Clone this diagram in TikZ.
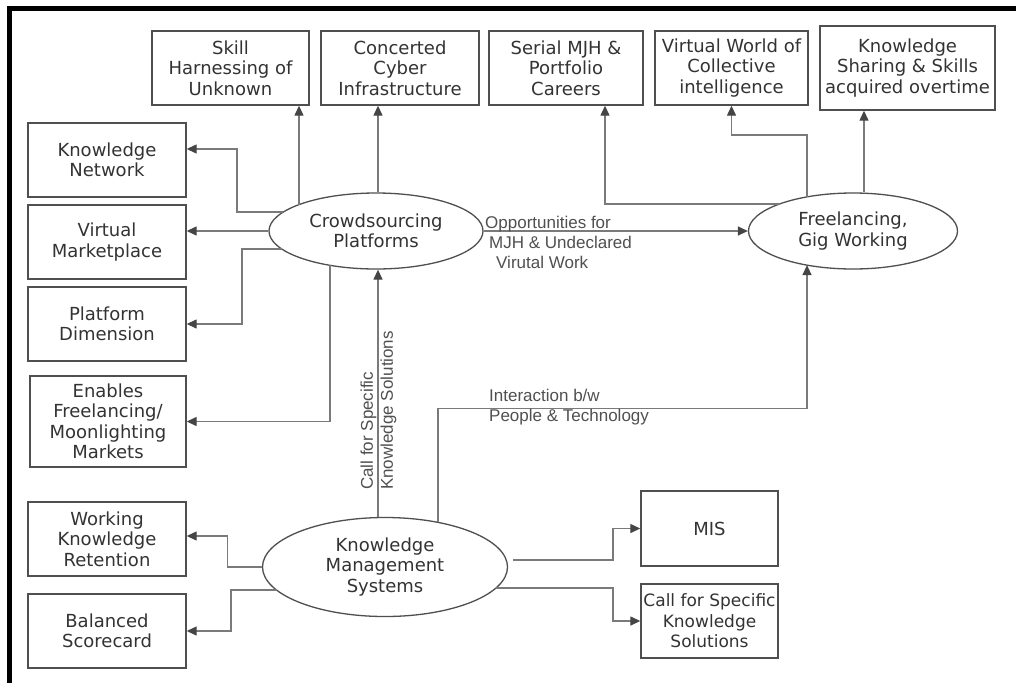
\documentclass[tikz,border=0pt]{standalone}
\usepackage{fontspec}
\setmainfont{DejaVu Sans}
\newfontfamily\labfont{Liberation Sans}
\usetikzlibrary{arrows.meta,shapes.geometric}
\definecolor{boxc}{HTML}{4F4F4F}
\definecolor{linec}{HTML}{7A7A7A}
\definecolor{arrc}{HTML}{454545}
\definecolor{txtc}{HTML}{333333}
\definecolor{labc}{HTML}{505050}
\begin{document}
\begin{tikzpicture}[x=1pt,y=-1pt,
  box/.style={draw=boxc, line width=1.4pt, text=txtc, align=center, inner sep=0pt,
    font=\fontsize{18}{20.5}\selectfont},
  oval/.style={ellipse, draw=boxc, line width=1.3pt, text=txtc, align=center, inner sep=0pt,
    font=\fontsize{18}{20.5}\selectfont},
  conn/.style={draw=linec, line width=1.3pt, -{Triangle[length=10pt,width=9pt,color=arrc]}},
  lab/.style={text=labc, align=left, inner sep=0pt, font=\labfont\fontsize{17}{20}\selectfont}
]
\useasboundingbox (0,0) rectangle (1016,683);
\fill[white] (0,0) rectangle (1016,683);
\fill[black] (7,6) rectangle (1016,11);
\fill[black] (7,6) rectangle (12,683);

% top boxes
\node[box, minimum width=157pt, minimum height=74pt] (skill) at (230.5,68) {Skill\\Harnessing of\\Unknown};
\node[box, minimum width=158pt, minimum height=74pt] (conc) at (400,68) {Concerted\\Cyber\\Infrastructure};
\node[box, minimum width=154pt, minimum height=74pt] (serial) at (566,68) {Serial MJH \&\\Portfolio\\Careers};
\node[box, minimum width=153pt, minimum height=74pt] (vw) at (731.5,68) {Virtual World of\\Collective\\intelligence};
\node[box, minimum width=175pt, minimum height=84pt] (ks) at (907.5,68) {Knowledge\\Sharing \& Skills\\acquired overtime};

% left boxes
\node[box, minimum width=158pt, minimum height=74pt] (kn) at (107,160) {Knowledge\\Network};
\node[box, minimum width=158pt, minimum height=74pt] (vm) at (107,242) {Virtual\\Marketplace};
\node[box, minimum width=158pt, minimum height=74pt] (pd) at (107,324) {Platform\\Dimension};
\node[box, minimum width=156pt, minimum height=91pt] (en) at (108,421.5) {Enables\\Freelancing/\\Moonlighting\\Markets};
\node[box, minimum width=158pt, minimum height=74pt] (wkr) at (107,539) {Working\\Knowledge\\Retention};
\node[box, minimum width=158pt, minimum height=74pt] (bs) at (107,631) {Balanced\\Scorecard};

% right bottom boxes
\node[box, minimum width=137pt, minimum height=75pt] (mis) at (709.5,528.5) {MIS};
\node[box, minimum width=137pt, minimum height=74pt, font=\fontsize{17}{20.5}\selectfont] (cfs) at (709.5,621) {Call for Specific\\Knowledge\\Solutions};

% ellipses
\node[oval, minimum width=214pt, minimum height=76pt] (C) at (376,231) {Crowdsourcing\\Platforms};
\node[oval, minimum width=209pt, minimum height=76pt] (F) at (853,231) {Freelancing,\\Gig Working};
\node[oval, minimum width=245pt, minimum height=99pt] (K) at (385,567) {Knowledge\\Management\\Systems};

% crowdsourcing connectors
\draw[conn] ([shift={(-77,-26.4)}]C.center) coordinate (s1) -- (s1 |- skill.south);
\draw[conn] ([xshift=2pt]C.north) -- ([xshift=2pt]C.north |- conc.south);
\draw[conn] ([shift={(-92.7,-19)}]C.center) -- ++(-46.3,0) |- ([yshift=11pt]kn.east);
\draw[conn] (C.west) -- (C.west -| vm.east);
\draw[conn] ([shift={(-94.2,18)}]C.center) -- ++(-39.8,0) |- (pd.east);
\draw[conn] ([shift={(-46,34.3)}]C.center) |- (en.east);
\draw[conn] (C.east) -- (F.west);
\node[lab, anchor=west] (opp) at (485,242) {Opportunities for\\\hspace*{4pt}MJH \& Undeclared\\\hspace*{11pt}Virutal Work};

% freelancing connectors
\draw[conn] ([shift={(-73.5,-27)}]F.center) -| ([xshift=39pt]serial.south);
\draw[conn] ([shift={(-46,-34.1)}]F.center) -- ++(0,-62) -| (vw.south);
\draw[conn] ([xshift=11pt]F.north) -- ([xshift=11pt]F.north |- ks.south);

% KMS connectors
\draw[conn] ([xshift=-7pt]K.north) -- ([xshift=-7pt]K.north |- C.south);
\node[lab, anchor=west, rotate=90] (call) at (378.5,490) {Call for Specific\\Knowledge Solutions};
\draw[conn] ([shift={(53,-44.6)}]K.center) -- ++(0,-114) -| ([shift={(-46,34.1)}]F.center);
\node[lab, anchor=west] (inter) at (489,407) {Interaction b/w\\People \& Technology};
\draw[conn] (K.west) -- ++(-34.5,0) |- ([yshift=3pt]wkr.east);
\draw[conn] ([shift={(-108.5,23)}]K.center) -- ++(-45.5,0) |- (bs.east);
\draw[conn] ([shift={(128,-7)}]K.center) -- ++(100,0) |- (mis.west);
\draw[conn] ([shift={(110.9,21)}]K.center) -- ++(117.1,0) |- (cfs.west);
\end{tikzpicture}
\end{document}
